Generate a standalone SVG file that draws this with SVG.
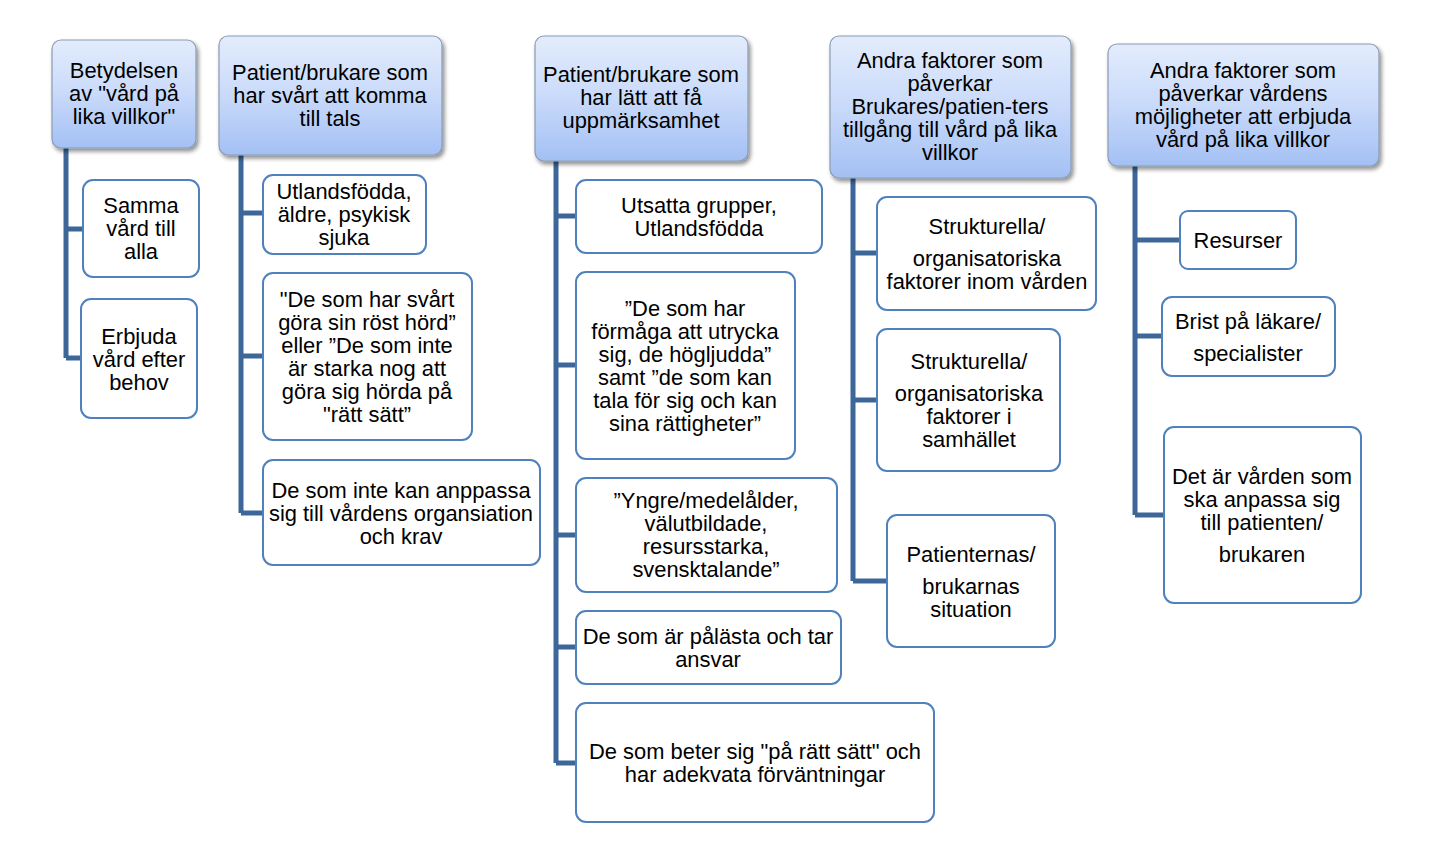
<svg xmlns="http://www.w3.org/2000/svg" width="1430" height="852" viewBox="0 0 1430 852">
<defs>
<linearGradient id="hg" x1="0" y1="0" x2="0" y2="1">
<stop offset="0" stop-color="#e3ecfc"/>
<stop offset="0.5" stop-color="#c9dafa"/>
<stop offset="1" stop-color="#a3c0f4"/>
</linearGradient>
<filter id="sh" x="-10%" y="-10%" width="125%" height="130%">
<feGaussianBlur in="SourceAlpha" stdDeviation="2"/>
<feOffset dx="2" dy="3" result="o"/>
<feComponentTransfer><feFuncA type="linear" slope="0.45"/></feComponentTransfer>
<feMerge><feMergeNode/><feMergeNode in="SourceGraphic"/></feMerge>
</filter>
</defs>
<style>
.hd{fill:url(#hg);stroke:#8a9bb3;stroke-width:1.2;filter:url(#sh)}
.ch{fill:#ffffff;stroke:#4f81bd;stroke-width:2}
.t{font-family:"Liberation Sans",Arial,sans-serif;font-size:21.9px;fill:#000;text-anchor:middle}
.cn{fill:none;stroke:#3d6699;stroke-width:5;stroke-linejoin:miter}
</style>
<rect width="1430" height="852" fill="#ffffff"/>
<g id="connectors">
<path class="cn" d="M66 148 V358 M66 229 H83 M66 358 H81"/>
<path class="cn" d="M241 155 V513 M241 213 H263 M241 356 H263 M241 513 H263"/>
<path class="cn" d="M556 161 V763 M556 216 H576 M556 365 H576 M556 535 H576 M556 647 H576 M556 763 H576"/>
<path class="cn" d="M853 178 V581 M853 253 H877 M853 400 H877 M853 581 H887"/>
<path class="cn" d="M1135 166 V515 M1135 240 H1180 M1135 336 H1162 M1135 515 H1164"/>
</g>
<g id="h1"><rect class="hd" x="52" y="40" width="144" height="108" rx="9"/>
<text class="t" x="124" y="78">Betydelsen</text><text class="t" x="124" y="101">av "vård på</text><text class="t" x="124" y="124">lika villkor"</text></g>
<g id="c1a"><rect class="ch" x="83" y="180" width="116" height="97" rx="10"/>
<text class="t" x="141" y="213">Samma</text><text class="t" x="141" y="236">vård till</text><text class="t" x="141" y="259">alla</text></g>
<g id="c1b"><rect class="ch" x="81" y="299" width="116" height="119" rx="10"/>
<text class="t" x="139" y="344">Erbjuda</text><text class="t" x="139" y="367">vård efter</text><text class="t" x="139" y="390">behov</text></g>

<g id="h2"><rect class="hd" x="219" y="36" width="223" height="119" rx="9"/>
<text class="t" x="330" y="80">Patient/brukare som</text><text class="t" x="330" y="103">har svårt att komma</text><text class="t" x="330" y="126">till tals</text></g>
<g id="c2a"><rect class="ch" x="263" y="175" width="163" height="79" rx="10"/>
<text class="t" x="344" y="199">Utlandsfödda,</text><text class="t" x="344" y="222">äldre, psykisk</text><text class="t" x="344" y="245">sjuka</text></g>
<g id="c2b"><rect class="ch" x="263" y="273" width="209" height="167" rx="10"/>
<text class="t" x="367" y="307">"De som har svårt</text><text class="t" x="367" y="330">göra sin röst hörd”</text><text class="t" x="367" y="353">eller ”De som inte</text><text class="t" x="367" y="376">är starka nog att</text><text class="t" x="367" y="399">göra sig hörda på</text><text class="t" x="367" y="422">"rätt sätt”</text></g>
<g id="c2c"><rect class="ch" x="263" y="460" width="277" height="105" rx="10"/>
<text class="t" x="401" y="498">De som inte kan anppassa</text><text class="t" x="401" y="521">sig till vårdens organsiation</text><text class="t" x="401" y="544">och krav</text></g>

<g id="h3"><rect class="hd" x="535" y="36" width="213" height="125" rx="9"/>
<text class="t" x="641" y="82">Patient/brukare som</text><text class="t" x="641" y="105">har lätt att få</text><text class="t" x="641" y="128">uppmärksamhet</text></g>
<g id="c3a"><rect class="ch" x="576" y="180" width="246" height="73" rx="10"/>
<text class="t" x="699" y="213">Utsatta grupper,</text><text class="t" x="699" y="236">Utlandsfödda</text></g>
<g id="c3b"><rect class="ch" x="576" y="272" width="219" height="187" rx="10"/>
<text class="t" x="685" y="316">”De som har</text><text class="t" x="685" y="339">förmåga att utrycka</text><text class="t" x="685" y="362">sig, de högljudda”</text><text class="t" x="685" y="385">samt ”de som kan</text><text class="t" x="685" y="408">tala för sig och kan</text><text class="t" x="685" y="431">sina rättigheter”</text></g>
<g id="c3c"><rect class="ch" x="576" y="478" width="261" height="114" rx="10"/>
<text class="t" x="706" y="508">”Yngre/medelålder,</text><text class="t" x="706" y="531">välutbildade,</text><text class="t" x="706" y="554">resursstarka,</text><text class="t" x="706" y="577">svensktalande”</text></g>
<g id="c3d"><rect class="ch" x="576" y="611" width="265" height="73" rx="10"/>
<text class="t" x="708" y="644">De som är pålästa och tar</text><text class="t" x="708" y="667">ansvar</text></g>
<g id="c3e"><rect class="ch" x="576" y="703" width="358" height="119" rx="10"/>
<text class="t" x="755" y="759">De som beter sig "på rätt sätt" och</text><text class="t" x="755" y="782">har adekvata förväntningar</text></g>

<g id="h4"><rect class="hd" x="830" y="36" width="241" height="142" rx="9"/>
<text class="t" x="950" y="68">Andra faktorer som</text><text class="t" x="950" y="91">påverkar</text><text class="t" x="950" y="114">Brukares/patien-ters</text><text class="t" x="950" y="137">tillgång till vård på lika</text><text class="t" x="950" y="160">villkor</text></g>
<g id="c4a"><rect class="ch" x="877" y="197" width="219" height="113" rx="10"/>
<text class="t" x="987" y="234">Strukturella/</text><text class="t" x="987" y="266">organisatoriska</text><text class="t" x="987" y="289">faktorer inom vården</text></g>
<g id="c4b"><rect class="ch" x="877" y="329" width="183" height="142" rx="10"/>
<text class="t" x="969" y="369">Strukturella/</text><text class="t" x="969" y="401">organisatoriska</text><text class="t" x="969" y="424">faktorer i</text><text class="t" x="969" y="447">samhället</text></g>
<g id="c4c"><rect class="ch" x="887" y="515" width="168" height="132" rx="10"/>
<text class="t" x="971" y="562">Patienternas/</text><text class="t" x="971" y="594">brukarnas</text><text class="t" x="971" y="617">situation</text></g>

<g id="h5"><rect class="hd" x="1108" y="44" width="271" height="122" rx="9"/>
<text class="t" x="1243" y="78">Andra faktorer som</text><text class="t" x="1243" y="101">påverkar vårdens</text><text class="t" x="1243" y="124">möjligheter att erbjuda</text><text class="t" x="1243" y="147">vård på lika villkor</text></g>
<g id="c5a"><rect class="ch" x="1180" y="211" width="116" height="58" rx="8"/>
<text class="t" x="1238" y="248">Resurser</text></g>
<g id="c5b"><rect class="ch" x="1162" y="297" width="173" height="79" rx="10"/>
<text class="t" x="1248" y="329">Brist på läkare/</text><text class="t" x="1248" y="361">specialister</text></g>
<g id="c5c"><rect class="ch" x="1164" y="427" width="197" height="176" rx="10"/>
<text class="t" x="1262" y="484">Det är vården som</text><text class="t" x="1262" y="507">ska anpassa sig</text><text class="t" x="1262" y="530">till patienten/</text><text class="t" x="1262" y="562">brukaren</text></g>
</svg>
